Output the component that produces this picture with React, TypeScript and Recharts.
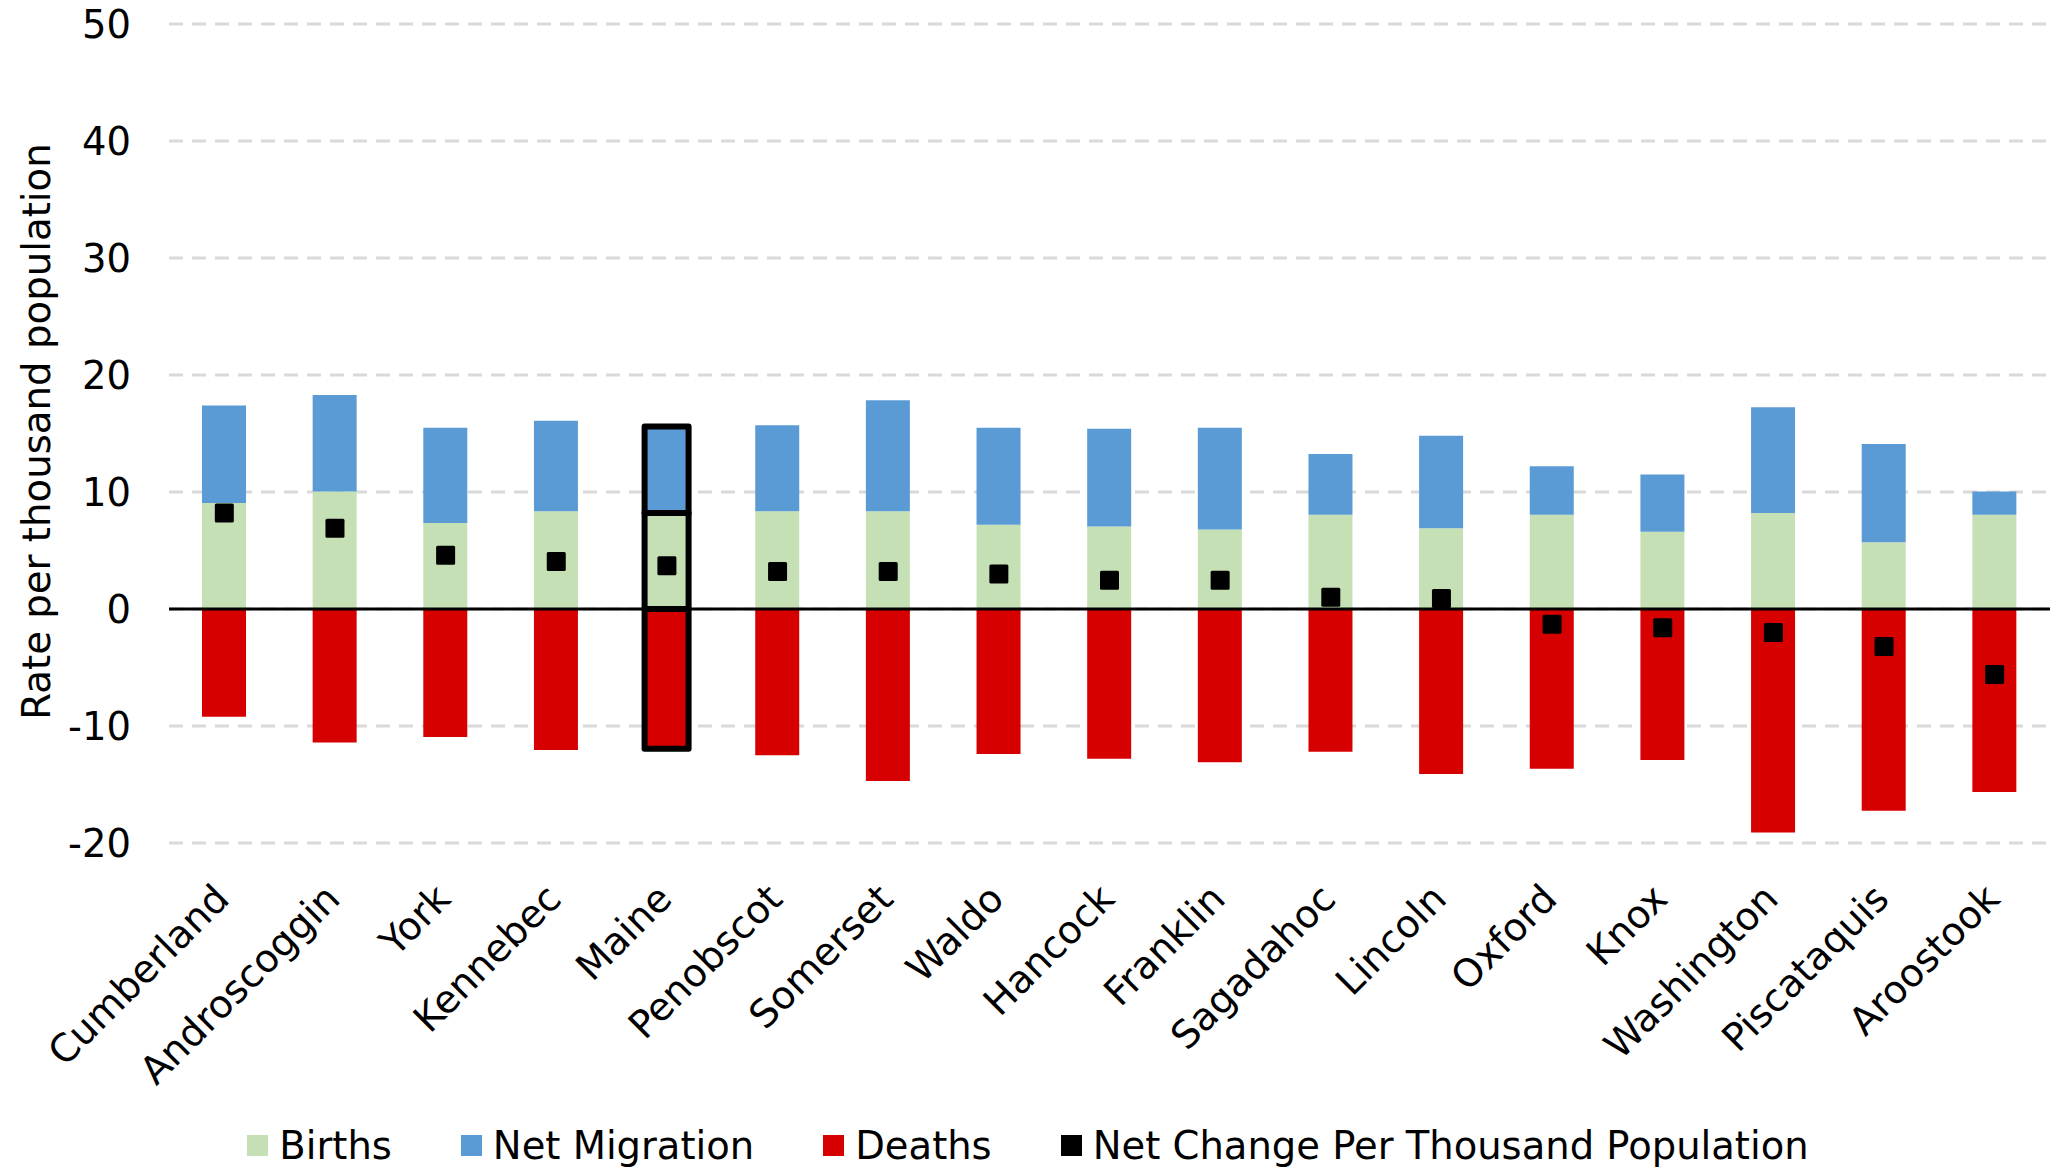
import {
  Bar,
  CartesianGrid,
  Cell,
  ComposedChart,
  Legend,
  Line,
  ReferenceLine,
  XAxis,
  YAxis,
} from "recharts"

const counties = [
  "Cumberland",
  "Androscoggin",
  "York",
  "Kennebec",
  "Maine",
  "Penobscot",
  "Somerset",
  "Waldo",
  "Hancock",
  "Franklin",
  "Sagadahoc",
  "Lincoln",
  "Oxford",
  "Knox",
  "Washington",
  "Piscataquis",
  "Aroostook",
]

const births = [9.05, 10.05, 7.35, 8.35, 8.2, 8.35, 8.35, 7.2, 7.05, 6.8, 8.05, 6.9, 8.05, 6.6, 8.2, 5.7, 8.05]
const netMigration = [8.35, 8.25, 8.15, 7.75, 7.4, 7.35, 9.5, 8.3, 8.35, 8.7, 5.2, 7.9, 4.15, 4.9, 9.05, 8.4, 2.0]
const deaths = [-9.2, -11.4, -10.95, -12.05, -11.95, -12.5, -14.7, -12.4, -12.8, -13.1, -12.2, -14.1, -13.65, -12.9, -19.1, -17.25, -15.65]
const netChange = [8.2, 6.9, 4.6, 4.05, 3.7, 3.2, 3.2, 3.0, 2.45, 2.45, 1.0, 0.9, -1.3, -1.6, -2.0, -3.2, -5.6]

const yTicks = [-20, -10, 0, 10, 20, 30, 40, 50]

const legendItems = [
  { name: "Births", color: "#c5e0b4" },
  { name: "Net Migration", color: "#5b9bd5" },
  { name: "Deaths", color: "#d60000" },
  { name: "Net Change Per Thousand Population", color: "#000000" },
]

const highlight = "Maine"
const font = "'DejaVu Sans', Verdana, sans-serif"

const data = counties.map((county, i) => ({
  county,
  births: births[i],
  migration: netMigration[i],
  deaths: deaths[i],
  net: netChange[i],
}))

function CountyTick({ x, y, payload }: any) {
  const tx = x + 7
  const ty = y + 58
  return (
    <text
      x={tx}
      y={ty}
      transform={`rotate(-45, ${tx}, ${ty})`}
      textAnchor="end"
      fontSize={38.5}
      fontFamily={font}
      fill="#000"
    >
      {payload.value}
    </text>
  )
}

function SquareDot({ cx, cy, index }: any) {
  if (cx == null || cy == null) return <g key={`d-${index}`} />
  return <rect key={`d-${index}`} x={cx - 9.5} y={cy - 9.5} width={19} height={19} rx={1.5} fill="#000" />
}

function YLabel(props: any) {
  const vb = props.viewBox || { x: 0, y: 24, width: 169, height: 819 }
  const cx = vb.x + 36
  const cy = vb.y + vb.height / 2 - 2
  return (
    <text
      x={cx}
      y={cy}
      transform={`rotate(-90, ${cx}, ${cy})`}
      textAnchor="middle"
      dominantBaseline="central"
      fontSize={38.7}
      fontFamily={font}
      fill="#000"
    >
      Rate per thousand population
    </text>
  )
}

function LegendContent() {
  return (
    <div
      style={{
        display: "flex",
        justifyContent: "center",
        alignItems: "center",
        height: 46,
        paddingLeft: 4,
        fontFamily: font,
        fontSize: 38.5,
        color: "#000",
        whiteSpace: "nowrap",
      }}
    >
      {legendItems.map((item, i) => (
        <div
          key={item.name}
          style={{
            display: "flex",
            alignItems: "center",
            marginRight: i < legendItems.length - 1 ? 69 : 0,
          }}
        >
          <span style={{ display: "inline-block", width: 21, height: 21, background: item.color, marginRight: 11 }} />
          <span>{item.name}</span>
        </div>
      ))}
    </div>
  )
}

const outline = (county: string) =>
  county === highlight ? { stroke: "#000", strokeWidth: 6, strokeLinejoin: "round" as const } : { stroke: "none" }

export default function App() {
  return (
    <div style={{ position: "absolute", left: 0, top: 0, width: 2052, height: 1168, background: "#fff" }}>
      <ComposedChart
        width={2052}
        height={1168}
        data={data}
        stackOffset="sign"
        margin={{ top: 24, right: 2, bottom: 0, left: 0 }}
        style={{ fontFamily: font }}
      >
        <CartesianGrid vertical={false} stroke="#d9d9d9" strokeDasharray="14 9" strokeWidth={3} />
        <XAxis
          dataKey="county"
          interval={0}
          axisLine={false}
          tickLine={false}
          tickSize={0}
          tickMargin={0}
          height={279}
          tick={<CountyTick />}
        />
        <YAxis
          type="number"
          domain={[-20, 50]}
          ticks={yTicks}
          width={169}
          axisLine={false}
          tickLine={false}
          tickSize={6}
          tickMargin={32}
          tick={{ fill: "#000", fontSize: 38.5, fontFamily: font }}
          label={{ content: YLabel }}
        />
        <Bar dataKey="births" name="Births" stackId="a" fill="#c5e0b4" barSize={44} isAnimationActive={false}>
          {data.map((d) => (
            <Cell key={`b-${d.county}`} {...outline(d.county)} />
          ))}
        </Bar>
        <Bar dataKey="migration" name="Net Migration" stackId="a" fill="#5b9bd5" barSize={44} isAnimationActive={false}>
          {data.map((d) => (
            <Cell key={`m-${d.county}`} {...outline(d.county)} />
          ))}
        </Bar>
        <Bar dataKey="deaths" name="Deaths" stackId="a" fill="#d60000" barSize={44} isAnimationActive={false}>
          {data.map((d) => (
            <Cell key={`x-${d.county}`} {...outline(d.county)} />
          ))}
        </Bar>
        <ReferenceLine y={0} stroke="#000" strokeWidth={3} />
        <Line
          dataKey="net"
          name="Net Change Per Thousand Population"
          stroke="none"
          dot={SquareDot}
          activeDot={false}
          isAnimationActive={false}
        />
        <Legend
          verticalAlign="bottom"
          content={<LegendContent />}
          wrapperStyle={{ left: 0, width: 2052, bottom: 0 }}
        />
      </ComposedChart>
    </div>
  )
}
